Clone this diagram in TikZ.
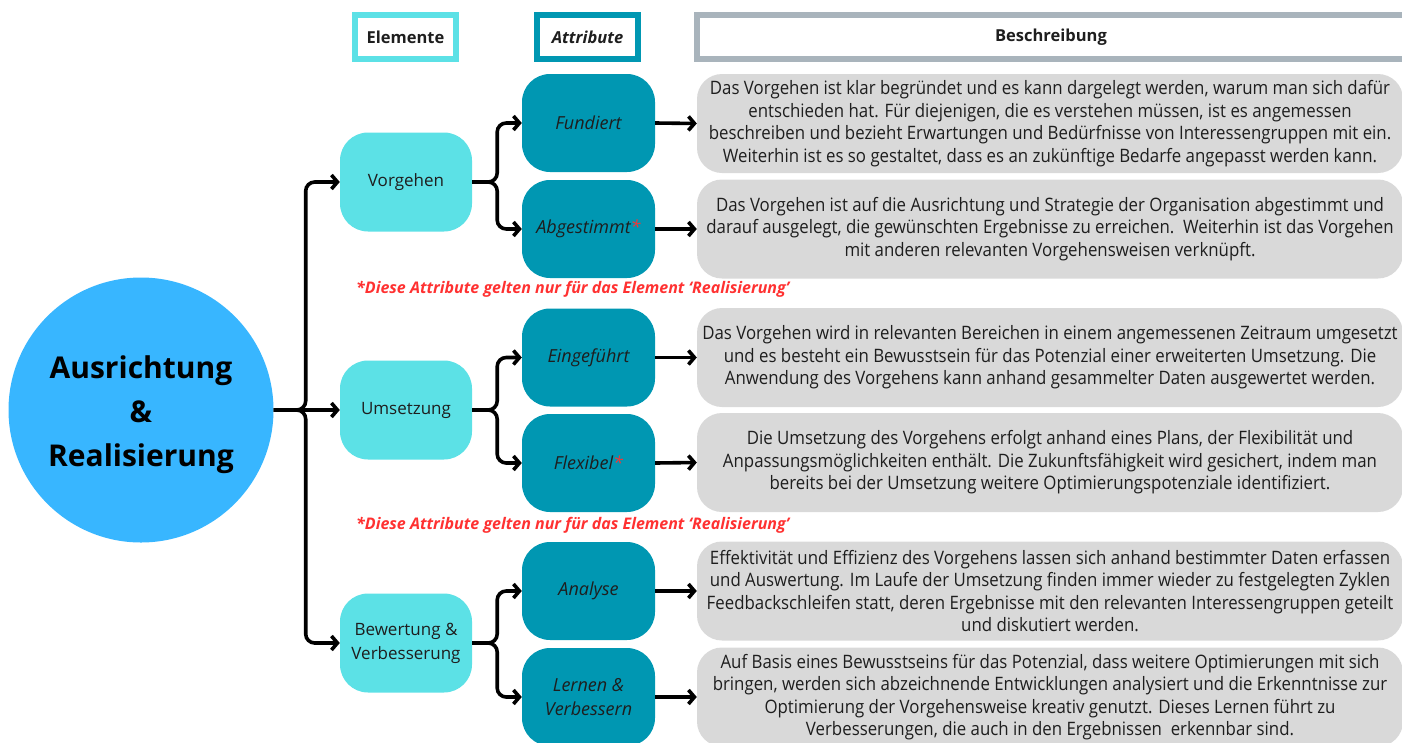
\documentclass[tikz,border=0pt]{standalone}
\usepackage{fontspec}
\setmainfont{Open Sans}
\newfontfamily\descfont{Open Sans}[FakeStretch=0.91]
\usetikzlibrary{arrows.meta}
\definecolor{elemcyan}{HTML}{5CE1E6}
\definecolor{attrteal}{HTML}{0097B2}
\definecolor{hubblue}{HTML}{38B6FF}
\definecolor{descgrey}{HTML}{D9D9D9}
\definecolor{headgrey}{HTML}{A9B4BC}
\definecolor{notered}{HTML}{FF3131}
\definecolor{ink}{HTML}{1E1E1E}
\tikzset{
  conn/.style={line width=3.6pt, rounded corners=9pt,
    -{Straight Barb[length=6pt,width=14pt]}},
  headbox/.style={draw, line width=6pt, fill=white, minimum height=44pt,
    inner sep=0pt, font=\bfseries\fontsize{16.5}{20}\selectfont, text=ink},
  elembox/.style={fill=elemcyan, rounded corners=28pt, minimum width=132pt,
    minimum height=99pt, inner sep=0pt, align=center, text=ink,
    font=\fontsize{17}{24}\selectfont},
  attrbox/.style={fill=attrteal, rounded corners=28pt, minimum width=133pt,
    minimum height=98pt, inner sep=0pt, align=center, text=ink,
    font=\itshape\fontsize{18}{24}\selectfont},
  descbox/.style={fill=descgrey, rounded corners=25pt, minimum width=706pt,
    minimum height=99pt, inner sep=0pt, align=center, text=ink,
    font=\descfont\fontsize{18.5}{22.5}\selectfont},
  note/.style={anchor=west, inner sep=0pt, text=notered,
    font=\bfseries\itshape\fontsize{16}{19}\selectfont},
}
\begin{document}
\begin{tikzpicture}[x=1pt,y=-1pt]
\useasboundingbox (0,0) rectangle (1402,742);

% column headers
\node[headbox, draw=elemcyan, minimum width=101pt] (hElem) at (405.5,37) {Elemente};
\node[headbox, draw=attrteal, minimum width=101pt] (hAttr) at (587.5,37) {\itshape Attribute};
\node[headbox, draw=headgrey, minimum width=708pt] (hDesc) at (1051,37) {Beschreibung};

% central hub
\node[circle, fill=hubblue, minimum size=265pt, inner sep=0pt] (hub) at (141,410) {};
\node[align=center, inner sep=0pt, text=black,
  font=\bfseries\fontsize{30}{44}\selectfont] (hubtext) at (141,415)
  {Ausrichtung\\\&\\Realisierung};

% elements
\node[elembox] (vor) at (406,182) {Vorgehen};
\node[elembox] (ums) at (406,410) {Umsetzung};
\node[elembox] (bew) at (406,643) {Bewertung \&\\Verbesserung};

% attributes
\node[attrbox] (fund) at (588.5,123) {Fundiert};
\node[attrbox] (abg)  at (588.5,229) {Abgestimmt\textcolor{notered}{*}};
\node[attrbox] (ein)  at (588.5,357.5) {Eingeführt};
\node[attrbox] (flex) at (588.5,463) {Flexibel\textcolor{notered}{*}};
\node[attrbox] (ana)  at (588.5,591) {Analyse};
\node[attrbox] (ler)  at (588.5,697) {Lernen \&\\Verbessern};

% descriptions
\node[descbox] (d1) at (1050,123.5) {Das Vorgehen ist klar begründet und es kann dargelegt werden, warum man sich dafür\\
entschieden hat. Für diejenigen, die es verstehen müssen, ist es angemessen\\
beschreiben und bezieht Erwartungen und Bedürfnisse von Interessengruppen mit ein.\\
Weiterhin ist es so gestaltet, dass es an zukünftige Bedarfe angepasst werden kann.};
\node[descbox] (d2) at (1050,229) {Das Vorgehen ist auf die Ausrichtung und Strategie der Organisation abgestimmt und\\
darauf ausgelegt, die gewünschten Ergebnisse zu erreichen.\ \ Weiterhin ist das Vorgehen\\
mit anderen relevanten Vorgehensweisen verknüpft.};
\node[descbox] (d3) at (1050,357.5) {Das Vorgehen wird in relevanten Bereichen in einem angemessenen Zeitraum umgesetzt\\
und es besteht ein Bewusstsein für das Potenzial einer erweiterten Umsetzung. Die\\
Anwendung des Vorgehens kann anhand gesammelter Daten ausgewertet werden.};
\node[descbox] (d4) at (1050,462.5) {Die Umsetzung des Vorgehens erfolgt anhand eines Plans, der Flexibilität und\\
Anpassungsmöglichkeiten enthält. Die Zukunftsfähigkeit wird gesichert, indem man\\
bereits bei der Umsetzung weitere Optimierungspotenziale identifiziert.};
\node[descbox] (d5) at (1050,591) {Effektivität und Effizienz des Vorgehens lassen sich anhand bestimmter Daten erfassen\\
und Auswertung. Im Laufe der Umsetzung finden immer wieder zu festgelegten Zyklen\\
Feedbackschleifen statt, deren Ergebnisse mit den relevanten Interessengruppen geteilt\\
und diskutiert werden.};
\node[descbox] (d6) at (1050,697) {Auf Basis eines Bewusstseins für das Potenzial, dass weitere Optimierungen mit sich\\
bringen, werden sich abzeichnende Entwicklungen analysiert und die Erkenntnisse zur\\
Optimierung der Vorgehensweise kreativ genutzt. Dieses Lernen führt zu\\
Verbesserungen, die auch in den Ergebnissen\ \ erkennbar sind.};

% footnotes for the starred attributes
\node[note] (n1) at (356,289) {*Diese Attribute gelten nur für das Element ‘Realisierung’};
\node[note] (n2) at (356,525) {*Diese Attribute gelten nur für das Element ‘Realisierung’};

% hub to elements
\draw[conn] (hub.east) -- ++(32,0) |- (vor.west);
\draw[conn] (hub.east) -- (ums.west);
\draw[conn] (hub.east) -- ++(32,0) |- (bew.west);

% elements to attributes
\draw[conn] (vor.east) -- ++(25,0) |- (fund.west);
\draw[conn] (vor.east) -- ++(25,0) |- (abg.west);
\draw[conn] (ums.east) -- ++(25,0) |- (ein.west);
\draw[conn] (ums.east) -- ++(25,0) |- (flex.west);
\draw[conn] (bew.east) -- ++(25,0) |- (ana.west);
\draw[conn] (bew.east) -- ++(25,0) |- (ler.west);

% attributes to descriptions
\draw[conn] (fund.east) -- (d1.west);
\draw[conn] (abg.east) -- (d2.west);
\draw[conn] (ein.east) -- (d3.west);
\draw[conn] (flex.east) -- (d4.west);
\draw[conn] (ana.east) -- (d5.west);
\draw[conn] (ler.east) -- (d6.west);
\end{tikzpicture}
\end{document}
